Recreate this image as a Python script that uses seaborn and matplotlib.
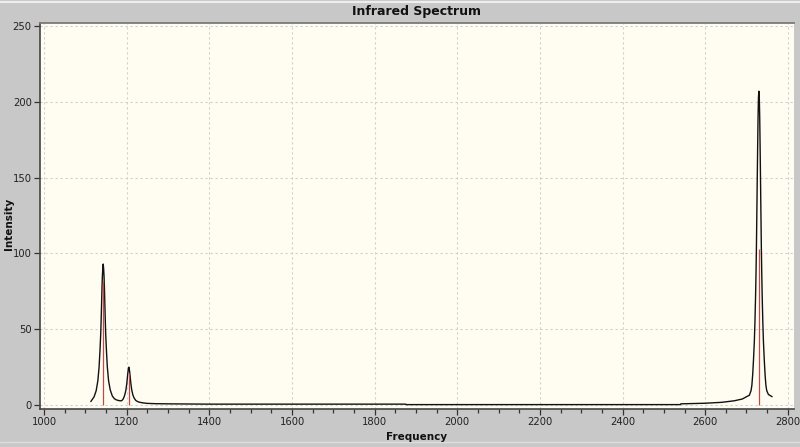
import numpy as np
import pandas as pd
import seaborn as sns
import matplotlib.pyplot as plt
from matplotlib.ticker import MultipleLocator

# stick spectrum (red lines)
stick_freq = [1143, 1205, 2730]
stick_int = [82, 21, 103]

# broadened curve, in pieces
band1_freq = [1113, 1116, 1121, 1126, 1130, 1133, 1135, 1137, 1138, 1139,
              1140, 1141, 1142, 1143, 1144, 1145, 1146, 1147, 1148, 1149,
              1151, 1153, 1156, 1160, 1165, 1170, 1175, 1180, 1185, 1188]
band1_int = [2.3, 3.5, 5.5, 9.5, 16, 25, 35, 47, 56, 66,
             77, 85, 90, 93, 90, 85, 77, 66, 56, 47,
             35, 25, 16, 10, 6.0, 4.2, 3.4, 3.0, 2.8, 2.9]

band2_freq = [1192, 1195, 1198, 1200, 1202, 1203, 1204, 1205, 1206, 1207,
              1208, 1210, 1212, 1215, 1218, 1222, 1227, 1232]
band2_int = [4.3, 6.5, 10, 14, 19.5, 22, 24, 25, 24, 22,
             19.5, 14, 10, 6.5, 4.5, 3.0, 2.2, 1.8]

base_freq = [1240, 1250, 1270, 1300, 1400, 1600, 1800, 1875, 1876, 2000,
             2200, 2400, 2540, 2541, 2600, 2640, 2670, 2690, 2700, 2707,
             2711]
base_int = [1.4, 1.1, 0.9, 0.8, 0.6, 0.6, 0.6, 0.6, 0.3, 0.3,
            0.3, 0.3, 0.3, 0.8, 1.2, 1.8, 2.8, 4.0, 5.5, 6.5,
            9.5]

band3_freq = [2713, 2715, 2717, 2719, 2720.5, 2722, 2723, 2724, 2725, 2726,
              2727, 2728, 2729, 2730, 2731, 2732, 2733, 2734, 2735, 2736,
              2737, 2738, 2739.5, 2741, 2743, 2745, 2747, 2749, 2753, 2762]
band3_int = [13, 20, 30, 42, 55, 72, 86, 103, 125, 148,
             170, 190, 203, 207, 203, 190, 170, 148, 125, 103,
             86, 72, 55, 42, 30, 20, 13, 9.5, 7.0, 5.5]

x_major = 200
y_major = 50

curve = pd.DataFrame({
    "Frequency": band1_freq + band2_freq + base_freq + band3_freq,
    "Intensity": band1_int + band2_int + base_int + band3_int,
})

sns.set_theme(style="ticks")
plt.rcParams['font.family'] = ['DejaVu Sans']

bg = "#c8c8c8"
fig = plt.figure(figsize=(8, 4.47), dpi=100, facecolor=bg)
ax = fig.add_axes([40 / 800, 38 / 447, 754 / 800, 386 / 447])
ax.set_facecolor("#fffdf2")

sns.lineplot(data=curve, x="Frequency", y="Intensity", color="#111111",
             lw=1.0, sort=False, estimator=None, ax=ax, zorder=3)
ax.vlines(stick_freq, 0, stick_int, color="#c04848", lw=0.9, zorder=4)

ax.set_xlim(990, 2815)
ax.set_ylim(-2.6, 252)
ax.xaxis.set_major_locator(MultipleLocator(x_major))
ax.xaxis.set_minor_locator(MultipleLocator(50))
ax.yaxis.set_major_locator(MultipleLocator(y_major))

ax.grid(True, which="major", color="#cfcfcf", ls=(0, (2, 2.5)), lw=0.8)
ax.tick_params(axis="both", which="major", labelsize=7.2, length=4,
               width=0.9, color="#333333", labelcolor="#222222", pad=2)
ax.tick_params(axis="x", which="minor", length=3, width=0.9, color="#333333")

for side in ["left", "bottom"]:
    ax.spines[side].set_color("#444444")
    ax.spines[side].set_linewidth(1.2)
ax.spines["top"].set_color("#7a7a7a")
ax.spines["top"].set_linewidth(1.3)
ax.spines["right"].set_visible(False)

ax.set_xlabel("")
ax.set_ylabel("")
fig.text(417 / 800, 1 - 12 / 447, "Infrared Spectrum", ha="center",
         va="center", fontsize=9, fontweight="bold", color="#111111")
fig.text(417 / 800, 10 / 447, "Frequency", ha="center", va="center",
         fontsize=7.5, fontweight="bold", color="#111111")
fig.text(9 / 800, 0.5, "Intensity", ha="center", va="center",
         rotation=90, fontsize=7.5, fontweight="bold", color="#111111")

# light frame lines of the window
fig.add_artist(plt.Line2D([0, 1], [1 - 2 / 447] * 2, color="#eeeeee", lw=1.5))
fig.add_artist(plt.Line2D([0, 1], [5 / 447] * 2, color="#dddddd", lw=1.0))

plt.savefig("out.png", dpi=100, facecolor=bg)
